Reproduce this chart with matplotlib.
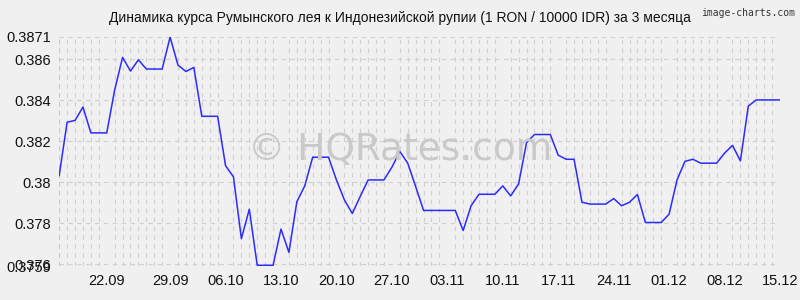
import numpy as np
import matplotlib
matplotlib.use('Agg')
import matplotlib.pyplot as plt

# daily rate, 15.09 .. 15.12
rates = [
    0.38033, 0.38293, 0.38302, 0.38367, 0.38241, 0.38241, 0.38241,
    0.38450, 0.38610, 0.38543, 0.38598, 0.38553, 0.38553, 0.38553,
    0.38709, 0.38572, 0.38541, 0.38561, 0.38322, 0.38322, 0.38322,
    0.38081, 0.38026, 0.37724, 0.37868, 0.37594, 0.37594, 0.37594,
    0.37771, 0.37657, 0.37904, 0.37982, 0.38122, 0.38122, 0.38122,
    0.38011, 0.37914, 0.37847, 0.37930, 0.38011, 0.38011, 0.38011,
    0.38073, 0.38150, 0.38093, 0.37979, 0.37862, 0.37862, 0.37862,
    0.37862, 0.37862, 0.37764, 0.37885, 0.37941, 0.37941, 0.37941,
    0.37982, 0.37933, 0.37992, 0.38193, 0.38233, 0.38233, 0.38233,
    0.38132, 0.38112, 0.38112, 0.37902, 0.37893, 0.37893, 0.37893,
    0.37920, 0.37885, 0.37902, 0.37940, 0.37803, 0.37803, 0.37803,
    0.37844, 0.38011, 0.38102, 0.38112, 0.38093, 0.38093, 0.38093,
    0.38142, 0.38180, 0.38104, 0.38372, 0.38402, 0.38402, 0.38402,
    0.38402,
]

date_labels = ['22.09', '29.09', '06.10', '13.10', '20.10', '27.10', '03.11',
               '10.11', '17.11', '24.11', '01.12', '08.12', '15.12']
date_pos = [6, 14, 21, 28, 35, 42, 49, 56, 63, 70, 77, 84, 91]

y_ticks = [0.3759, 0.376, 0.378, 0.38, 0.382, 0.384, 0.386, 0.3871]
y_labels = ['0.3759', '0.376', '0.378', '0.38', '0.382', '0.384', '0.386', '0.3871']

plt.rcParams['font.family'] = ['Liberation Sans', 'DejaVu Sans']

bg = '#f0f0f0'
fig = plt.figure(figsize=(8, 3), dpi=100, facecolor=bg)
ax = fig.add_axes([0.074, 0.113, 0.901, 0.764], facecolor='none')

# watermark, behind everything
fig.text(0.5, 0.5, '© HQRates.com', ha='center', va='center', fontsize=27,
         color='#c9c9c9', family='DejaVu Sans', zorder=0)

x = np.arange(len(rates))
ax.plot(x, rates, color='#2b2bff', linewidth=1.1, zorder=3)

ax.set_xlim(0, len(rates) - 1)
ax.set_ylim(0.3759, 0.3871)

# grid: every day vertically, every tick horizontally
grid_style = dict(color='#cfcfcf', linewidth=0.8, linestyle=(0, (4, 4)))
ax.set_xticks(x, minor=True)
ax.grid(True, which='minor', axis='x', **grid_style)
ax.grid(True, which='major', axis='y', **grid_style)
ax.set_axisbelow(True)

ax.set_xticks(date_pos)
ax.set_xticklabels(date_labels, fontsize=10.5)
ax.set_yticks(y_ticks)
ax.set_yticklabels(y_labels, fontsize=10.5)
ax.tick_params(which='both', length=0, pad=6, colors='#111111')

for s in ax.spines.values():
    s.set_visible(False)
ax.axvline(0, color='#c8c8c8', linewidth=0.8, linestyle=(0, (4, 4)), zorder=1)

fig.text(0.5, 0.94, 'Динамика курса Румынского лея к Индонезийской рупии (1 RON / 10000 IDR) за 3 месяца',
         ha='center', va='center', fontsize=10, color='#111111')
fig.text(0.994, 0.955, 'image-charts.com', ha='right', va='center', fontsize=7,
         color='#333333', family='DejaVu Sans Mono')

fig.savefig('out.png', dpi=100, facecolor=bg)
